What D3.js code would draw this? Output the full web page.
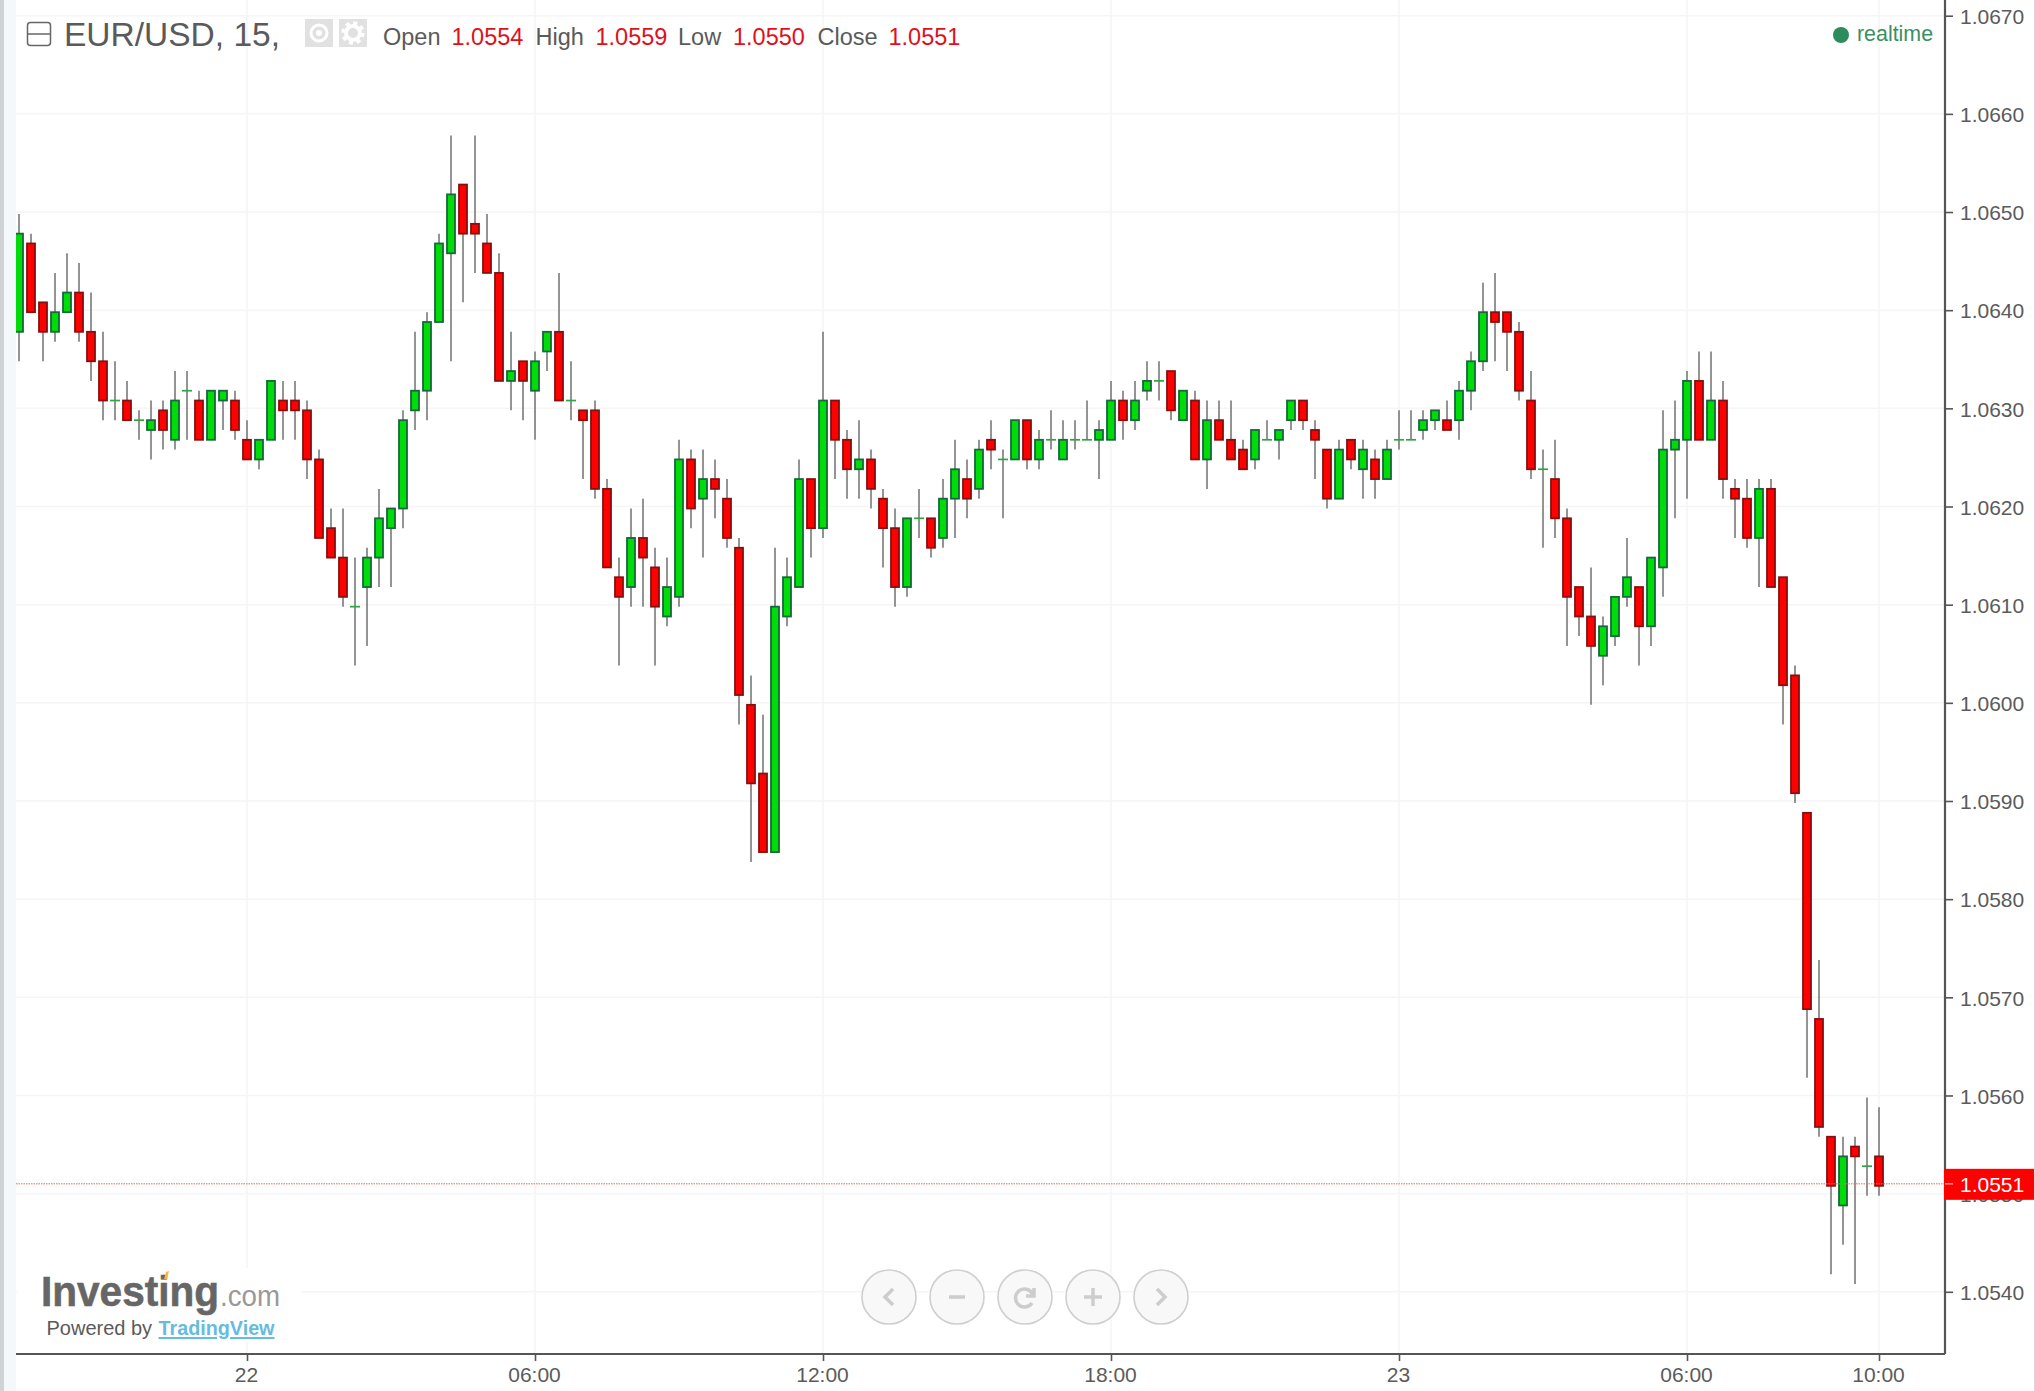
<!DOCTYPE html>
<html>
<head>
<meta charset="utf-8">
<title>EUR/USD, 15</title>
<script src="https://cdn.jsdelivr.net/npm/d3@7"></script>
<style>
  html, body { margin: 0; padding: 0; background: #fff; overflow: hidden; }
  text { font-family: "Liberation Sans", Arial, sans-serif; }
  .grid-line { stroke: #f5f5f6; stroke-width: 1.5; }
  .axis path, .axis line { stroke: #555; }
  .axis path { stroke-width: 2.2; }
  .axis line { stroke-width: 1.6; }
  .axis text { fill: #5b5b5b; font-size: 21px; }
  .wick { stroke: #707070; stroke-width: 1.5; }
  .legend-label { fill: #5a5a5a; font-size: 23.5px; }
  .legend-value { fill: #e0101c; font-size: 23.5px; }
</style>
</head>
<body>
<div id="wrapper"></div>
<script>
// 1. Data. One candle every 15 minutes.

const firstCandle = "2017-03-21T19:15:00Z"
const candleMinutes = 15

const opens = [
  1.0638, 1.0647, 1.0641, 1.0638, 1.0640, 1.0642, 1.0638, 1.0635, 1.0631, 1.0631,
  1.0629, 1.0628, 1.0630, 1.0627, 1.0632, 1.0631, 1.0627, 1.0631, 1.0631, 1.0627,
  1.0625, 1.0627, 1.0631, 1.0631, 1.0630, 1.0625, 1.0618, 1.0615, 1.0610, 1.0612,
  1.0615, 1.0618, 1.0620, 1.0630, 1.0632, 1.0639, 1.0646, 1.0653, 1.0649, 1.0647,
  1.0644, 1.0633, 1.0635, 1.0632, 1.0636, 1.0638, 1.0631, 1.0630, 1.0630, 1.0622,
  1.0613, 1.0612, 1.0617, 1.0614, 1.0609, 1.0611, 1.0625, 1.0621, 1.0623, 1.0621,
  1.0616, 1.0600, 1.0593, 1.0585, 1.0609, 1.0612, 1.0623, 1.0618, 1.0631, 1.0627,
  1.0624, 1.0625, 1.0621, 1.0618, 1.0612, 1.0619, 1.0619, 1.0617, 1.0621, 1.0623,
  1.0622, 1.0627, 1.0625, 1.0625, 1.0629, 1.0625, 1.0627, 1.0625, 1.0627, 1.0627,
  1.0627, 1.0627, 1.0631, 1.0629, 1.0632, 1.0633, 1.0634, 1.0629, 1.0631, 1.0625,
  1.0629, 1.0627, 1.0626, 1.0625, 1.0627, 1.0627, 1.0629, 1.0631, 1.0628, 1.0626,
  1.0621, 1.0627, 1.0624, 1.0625, 1.0623, 1.0627, 1.0627, 1.0628, 1.0629, 1.0629,
  1.0629, 1.0632, 1.0635, 1.0640, 1.0640, 1.0638, 1.0631, 1.0624, 1.0623, 1.0619,
  1.0612, 1.0609, 1.0605, 1.0607, 1.0611, 1.0612, 1.0608, 1.0614, 1.0626, 1.0627,
  1.0633, 1.0627, 1.0631, 1.0622, 1.0621, 1.0617, 1.0622, 1.0613, 1.0603, 1.0589,
  1.0568, 1.0556, 1.0549, 1.0555, 1.0553, 1.0554,
]
const highs = [
  1.0650, 1.0648, 1.0641, 1.0644, 1.0646, 1.0645, 1.0642, 1.0638, 1.0635, 1.0633,
  1.0630, 1.0631, 1.0631, 1.0634, 1.0634, 1.0632, 1.0632, 1.0632, 1.0632, 1.0629,
  1.0627, 1.0633, 1.0633, 1.0633, 1.0631, 1.0626, 1.0620, 1.0620, 1.0615, 1.0616,
  1.0622, 1.0620, 1.0630, 1.0638, 1.0640, 1.0648, 1.0658, 1.0653, 1.0658, 1.0650,
  1.0646, 1.0638, 1.0635, 1.0636, 1.0638, 1.0644, 1.0635, 1.0630, 1.0631, 1.0623,
  1.0615, 1.0620, 1.0621, 1.0616, 1.0615, 1.0627, 1.0626, 1.0626, 1.0625, 1.0623,
  1.0617, 1.0603, 1.0599, 1.0616, 1.0615, 1.0625, 1.0623, 1.0638, 1.0631, 1.0628,
  1.0629, 1.0626, 1.0622, 1.0620, 1.0619, 1.0622, 1.0619, 1.0623, 1.0627, 1.0625,
  1.0627, 1.0629, 1.0626, 1.0629, 1.0629, 1.0628, 1.0630, 1.0629, 1.0629, 1.0631,
  1.0629, 1.0633, 1.0632, 1.0633, 1.0635, 1.0635, 1.0634, 1.0632, 1.0632, 1.0631,
  1.0631, 1.0631, 1.0627, 1.0628, 1.0629, 1.0628, 1.0631, 1.0631, 1.0629, 1.0626,
  1.0627, 1.0627, 1.0627, 1.0626, 1.0627, 1.0630, 1.0630, 1.0630, 1.0630, 1.0631,
  1.0633, 1.0636, 1.0643, 1.0644, 1.0640, 1.0639, 1.0634, 1.0626, 1.0627, 1.0620,
  1.0612, 1.0614, 1.0609, 1.0611, 1.0617, 1.0612, 1.0615, 1.0630, 1.0631, 1.0634,
  1.0636, 1.0636, 1.0633, 1.0623, 1.0623, 1.0623, 1.0623, 1.0613, 1.0604, 1.0589,
  1.0574, 1.0556, 1.0556, 1.0556, 1.0560, 1.0559,
]
const lows = [
  1.0635, 1.0640, 1.0635, 1.0637, 1.0640, 1.0637, 1.0633, 1.0629, 1.0629, 1.0629,
  1.0627, 1.0625, 1.0626, 1.0626, 1.0627, 1.0627, 1.0627, 1.0628, 1.0627, 1.0625,
  1.0624, 1.0627, 1.0627, 1.0627, 1.0623, 1.0617, 1.0615, 1.0610, 1.0604, 1.0606,
  1.0612, 1.0612, 1.0618, 1.0628, 1.0629, 1.0639, 1.0635, 1.0641, 1.0644, 1.0644,
  1.0633, 1.0630, 1.0629, 1.0627, 1.0634, 1.0631, 1.0629, 1.0623, 1.0621, 1.0614,
  1.0604, 1.0610, 1.0610, 1.0604, 1.0608, 1.0610, 1.0618, 1.0615, 1.0619, 1.0616,
  1.0598, 1.0584, 1.0585, 1.0585, 1.0608, 1.0612, 1.0615, 1.0617, 1.0623, 1.0621,
  1.0621, 1.0620, 1.0614, 1.0610, 1.0611, 1.0617, 1.0615, 1.0616, 1.0617, 1.0619,
  1.0621, 1.0624, 1.0619, 1.0625, 1.0624, 1.0624, 1.0626, 1.0625, 1.0626, 1.0627,
  1.0623, 1.0627, 1.0627, 1.0628, 1.0631, 1.0631, 1.0629, 1.0629, 1.0625, 1.0622,
  1.0627, 1.0625, 1.0624, 1.0624, 1.0627, 1.0625, 1.0628, 1.0628, 1.0623, 1.0620,
  1.0621, 1.0624, 1.0621, 1.0621, 1.0623, 1.0626, 1.0627, 1.0627, 1.0628, 1.0628,
  1.0627, 1.0630, 1.0634, 1.0635, 1.0634, 1.0631, 1.0623, 1.0616, 1.0617, 1.0606,
  1.0607, 1.0600, 1.0602, 1.0606, 1.0610, 1.0604, 1.0606, 1.0611, 1.0619, 1.0621,
  1.0627, 1.0627, 1.0621, 1.0617, 1.0616, 1.0612, 1.0612, 1.0598, 1.0590, 1.0562,
  1.0556, 1.0542, 1.0545, 1.0541, 1.0550, 1.0550,
]
const closes = [
  1.0648, 1.0640, 1.0638, 1.0640, 1.0642, 1.0638, 1.0635, 1.0631, 1.0631, 1.0629,
  1.0629, 1.0629, 1.0628, 1.0631, 1.0632, 1.0627, 1.0632, 1.0632, 1.0628, 1.0625,
  1.0627, 1.0633, 1.0630, 1.0630, 1.0625, 1.0617, 1.0615, 1.0611, 1.0610, 1.0615,
  1.0619, 1.0620, 1.0629, 1.0632, 1.0639, 1.0647, 1.0652, 1.0648, 1.0648, 1.0644,
  1.0633, 1.0634, 1.0633, 1.0635, 1.0638, 1.0631, 1.0631, 1.0629, 1.0622, 1.0614,
  1.0611, 1.0617, 1.0615, 1.0610, 1.0612, 1.0625, 1.0620, 1.0623, 1.0622, 1.0617,
  1.0601, 1.0592, 1.0585, 1.0610, 1.0613, 1.0623, 1.0618, 1.0631, 1.0627, 1.0624,
  1.0625, 1.0622, 1.0618, 1.0612, 1.0619, 1.0619, 1.0616, 1.0621, 1.0624, 1.0621,
  1.0626, 1.0626, 1.0625, 1.0629, 1.0625, 1.0627, 1.0627, 1.0627, 1.0627, 1.0627,
  1.0628, 1.0631, 1.0629, 1.0631, 1.0633, 1.0633, 1.0630, 1.0632, 1.0625, 1.0629,
  1.0627, 1.0625, 1.0624, 1.0628, 1.0627, 1.0628, 1.0631, 1.0629, 1.0627, 1.0621,
  1.0626, 1.0625, 1.0626, 1.0623, 1.0626, 1.0627, 1.0627, 1.0629, 1.0630, 1.0628,
  1.0632, 1.0635, 1.0640, 1.0639, 1.0638, 1.0632, 1.0624, 1.0624, 1.0619, 1.0611,
  1.0609, 1.0606, 1.0608, 1.0611, 1.0613, 1.0608, 1.0615, 1.0626, 1.0627, 1.0633,
  1.0627, 1.0631, 1.0623, 1.0621, 1.0617, 1.0622, 1.0612, 1.0602, 1.0591, 1.0569,
  1.0557, 1.0551, 1.0554, 1.0554, 1.0553, 1.0551,
]

const priceTicks = [1.054, 1.055, 1.056, 1.057, 1.058, 1.059, 1.06, 1.061, 1.062, 1.063, 1.064, 1.065, 1.066, 1.067]
const timeTicks = ["2017-03-22T00:00:00Z", "2017-03-22T06:00:00Z", "2017-03-22T12:00:00Z", "2017-03-22T18:00:00Z", "2017-03-23T00:00:00Z", "2017-03-23T06:00:00Z", "2017-03-23T10:00:00Z"]
const timeLabels = ["22", "06:00", "12:00", "18:00", "23", "06:00", "10:00"]

const legendLabels = ["Open", "High", "Low", "Close"]
const legendValues = ["1.0554", "1.0559", "1.0550", "1.0551"]
const lastPrice = 1.0551

const candles = opens.map((open, i) => ({
  date: new Date(new Date(firstCandle).getTime() + i * candleMinutes * 60000),
  open,
  high: highs[i],
  low: lows[i],
  close: closes[i],
}))

const dateAccessor = d => d.date
const isDoji = d => d.open === d.close
const isUp = d => d.close >= d.open

// 2. Dimensions

const dimensions = {
  width: 2035,
  height: 1391,
  plotLeft: 16,
  plotRight: 1945,
  plotBottom: 1354,
  candleWidth: 8,
}

// 3. Canvas

const svg = d3.select("#wrapper")
  .append("svg")
    .attr("width", dimensions.width)
    .attr("height", dimensions.height)
    .style("display", "block")

svg.append("defs").append("clipPath")
    .attr("id", "plot-clip")
  .append("rect")
    .attr("x", dimensions.plotLeft)
    .attr("y", 0)
    .attr("width", dimensions.plotRight - dimensions.plotLeft)
    .attr("height", dimensions.plotBottom)

// page edges left and right of the widget
svg.append("rect").attr("width", 4).attr("height", dimensions.height).attr("fill", "#d0d3d5")
svg.append("rect").attr("x", 4).attr("width", 12).attr("height", dimensions.height).attr("fill", "#f4f8fb")
svg.append("rect").attr("x", 2034).attr("width", 1).attr("height", dimensions.height).attr("fill", "#d8d8d8")

// 4. Scales

const xScale = d3.scaleUtc()
  .domain([new Date(timeTicks[0]), new Date(timeTicks[6])])
  .range([247, 1879])

const yScale = d3.scaleLinear()
  .domain([1.054, 1.067])
  .range([1291.8, 15.7])

// 5. Peripherals

const peripherals = svg.append("g")

peripherals.selectAll(".grid-x")
  .data(timeTicks)
  .join("line")
    .attr("class", "grid-line")
    .attr("x1", d => xScale(new Date(d)))
    .attr("x2", d => xScale(new Date(d)))
    .attr("y1", 0)
    .attr("y2", dimensions.plotBottom)

peripherals.selectAll(".grid-y")
  .data(priceTicks)
  .join("line")
    .attr("class", "grid-line")
    .attr("x1", dimensions.plotLeft)
    .attr("x2", dimensions.plotRight)
    .attr("y1", d => yScale(d))
    .attr("y2", d => yScale(d))

const yAxis = d3.axisRight(yScale)
  .tickValues(priceTicks)
  .tickFormat(d3.format(".4f"))
  .tickSize(8)
  .tickPadding(7)

const yAxisGroup = svg.append("g")
    .attr("class", "axis")
    .attr("transform", `translate(${dimensions.plotRight}, 0)`)
    .call(yAxis)
yAxisGroup.select(".domain").attr("d", `M0,0V${dimensions.plotBottom}`)
yAxisGroup.selectAll("text").attr("dy", "0.37em")

const xAxis = d3.axisBottom(xScale)
  .tickValues(timeTicks.map(d => new Date(d)))
  .tickFormat((d, i) => timeLabels[i])
  .tickSize(7)
  .tickPadding(6)

const xAxisGroup = svg.append("g")
    .attr("class", "axis")
    .attr("transform", `translate(0, ${dimensions.plotBottom})`)
    .call(xAxis)
xAxisGroup.select(".domain").attr("d", `M${dimensions.plotLeft},0H${dimensions.plotRight}`)
xAxisGroup.selectAll("text").attr("dx", -1)

// 6. Candles

// bodies sit about 2px under the price grid in the original
const bounds = svg.append("g")
    .attr("clip-path", "url(#plot-clip)")
  .append("g")
    .attr("transform", "translate(0, 2)")

bounds.selectAll(".wick")
  .data(candles)
  .join("line")
    .attr("class", "wick")
    .attr("x1", d => xScale(dateAccessor(d)))
    .attr("x2", d => xScale(dateAccessor(d)))
    .attr("y1", d => yScale(d.high))
    .attr("y2", d => yScale(d.low))

bounds.selectAll(".body")
  .data(candles.filter(d => !isDoji(d)))
  .join("rect")
    .attr("class", "body")
    .attr("x", d => xScale(dateAccessor(d)) - dimensions.candleWidth / 2)
    .attr("y", d => yScale(Math.max(d.open, d.close)))
    .attr("width", dimensions.candleWidth)
    .attr("height", d => Math.abs(yScale(d.open) - yScale(d.close)))
    .attr("fill", d => isUp(d) ? "#00dc0a" : "#fe0000")
    .attr("stroke", d => isUp(d) ? "#17683a" : "#86100f")
    .attr("stroke-width", 1.8)

bounds.selectAll(".doji")
  .data(candles.filter(isDoji))
  .join("line")
    .attr("class", "doji")
    .attr("x1", d => xScale(dateAccessor(d)) - 5)
    .attr("x2", d => xScale(dateAccessor(d)) + 5)
    .attr("y1", d => yScale(d.close))
    .attr("y2", d => yScale(d.close))
    .attr("stroke", "#2ea644")
    .attr("stroke-width", 1.7)

// 7. Last price line and label

svg.append("line")
    .attr("x1", dimensions.plotLeft)
    .attr("x2", dimensions.plotRight)
    .attr("y1", yScale(lastPrice))
    .attr("y2", yScale(lastPrice))
    .attr("stroke", "#f0626a")
    .attr("stroke-width", 1)
    .attr("stroke-dasharray", "1.5 1")

svg.append("rect")
    .attr("x", 1944)
    .attr("y", yScale(lastPrice) - 15)
    .attr("width", 90)
    .attr("height", 31)
    .attr("fill", "#fe0000")

svg.append("line")
    .attr("x1", 1945)
    .attr("x2", 1953)
    .attr("y1", yScale(lastPrice))
    .attr("y2", yScale(lastPrice))
    .attr("stroke", "#ff9a9a")
    .attr("stroke-width", 1.5)

svg.append("text")
    .attr("x", 1960)
    .attr("y", yScale(lastPrice) + 8.5)
    .attr("fill", "#fff")
    .attr("font-size", 21)
    .text(d3.format(".4f")(lastPrice))

// 8. Header

const header = svg.append("g")

header.append("rect")
    .attr("x", 27.5).attr("y", 22.5)
    .attr("width", 23).attr("height", 23).attr("rx", 3)
    .attr("fill", "#fff").attr("stroke", "#666").attr("stroke-width", 1.5)
header.append("line")
    .attr("x1", 28).attr("x2", 50).attr("y1", 34).attr("y2", 34)
    .attr("stroke", "#666").attr("stroke-width", 1.5)

header.append("text")
    .attr("x", 64).attr("y", 46)
    .attr("fill", "#5a5a5a").attr("font-size", 33.5)
    .text("EUR/USD, 15,")

// eye button
header.append("rect").attr("x", 305).attr("y", 19).attr("width", 28).attr("height", 28).attr("fill", "#e1e1e1")
header.append("circle").attr("cx", 319).attr("cy", 33).attr("r", 8)
    .attr("fill", "none").attr("stroke", "#fff").attr("stroke-width", 3)
header.append("circle").attr("cx", 319).attr("cy", 33).attr("r", 3).attr("fill", "#fff")

// gear button
header.append("rect").attr("x", 339).attr("y", 19).attr("width", 28).attr("height", 28).attr("fill", "#e1e1e1")
header.append("circle").attr("cx", 353).attr("cy", 33).attr("r", 7)
    .attr("fill", "none").attr("stroke", "#fff").attr("stroke-width", 4)
header.append("circle").attr("cx", 353).attr("cy", 33).attr("r", 10)
    .attr("fill", "none").attr("stroke", "#fff").attr("stroke-width", 3.5).attr("stroke-dasharray", "4 3.85")

const legendLabelX = [383, 535.5, 678, 817.5]
const legendValueX = [451.5, 595.5, 733, 888.5]

header.selectAll(".legend-label")
  .data(legendLabels)
  .join("text")
    .attr("class", "legend-label")
    .attr("x", (d, i) => legendLabelX[i])
    .attr("y", 45)
    .text(d => d)

header.selectAll(".legend-value")
  .data(legendValues)
  .join("text")
    .attr("class", "legend-value")
    .attr("x", (d, i) => legendValueX[i])
    .attr("y", 45)
    .text(d => d)

header.append("circle").attr("cx", 1841).attr("cy", 35).attr("r", 8).attr("fill", "#2e8b5c")
header.append("text")
    .attr("x", 1857).attr("y", 41)
    .attr("fill", "#3a8f63").attr("font-size", 21.4)
    .text("realtime")

// 9. Logo

const logo = svg.append("g")

logo.append("rect")
    .attr("x", dimensions.plotLeft + 1).attr("y", 1268)
    .attr("width", 284).attr("height", 74)
    .attr("fill", "#fff")

logo.append("text")
    .attr("x", 41).attr("y", 1306)
    .attr("fill", "#666").attr("stroke", "#666").attr("stroke-width", 0.6)
    .attr("font-size", 43).attr("font-weight", "bold")
    .attr("textLength", 178).attr("lengthAdjust", "spacingAndGlyphs")
    .text("Investing")

logo.append("text")
    .attr("x", 220).attr("y", 1306)
    .attr("fill", "#999").attr("font-size", 29)
    .attr("textLength", 60).attr("lengthAdjust", "spacingAndGlyphs")
    .text(".com")

logo.append("path")
    .attr("d", "M164,1279 L166,1272 L169,1271 L167,1279 Z")
    .attr("fill", "#f5b740")

logo.append("text")
    .attr("x", 46.5).attr("y", 1335)
    .attr("fill", "#5a5a5a").attr("font-size", 20)
    .text("Powered by")

logo.append("text")
    .attr("x", 158.5).attr("y", 1335)
    .attr("fill", "#67bbdf").attr("font-size", 20.5).attr("font-weight", "bold")
    .attr("text-decoration", "underline")
    .attr("textLength", 116).attr("lengthAdjust", "spacingAndGlyphs")
    .text("TradingView")

// 10. Chart navigation buttons

const navButtonX = [889, 957, 1025, 1093, 1161]
const navGlyphs = [
  "M4,-8 L-4,0 L4,8",
  "M-8,0 H8",
  "M8,-2 A9,9 0 1,0 7,6 M9,-9 V-1 H1",
  "M-9,0 H9 M0,-9 V9",
  "M-4,-8 L4,0 L-4,8",
]

const nav = svg.append("g")
  .selectAll("g")
  .data(navGlyphs)
  .join("g")
    .attr("transform", (d, i) => `translate(${navButtonX[i]}, 1297)`)

nav.append("circle")
    .attr("r", 27)
    .attr("fill", "#f8f8f8")
    .attr("stroke", "#cfcfcf")
    .attr("stroke-width", 1.6)

nav.append("path")
    .attr("d", d => d)
    .attr("fill", "none")
    .attr("stroke", "#cdcdcd")
    .attr("stroke-width", 3.5)
</script>
</body>
</html>
